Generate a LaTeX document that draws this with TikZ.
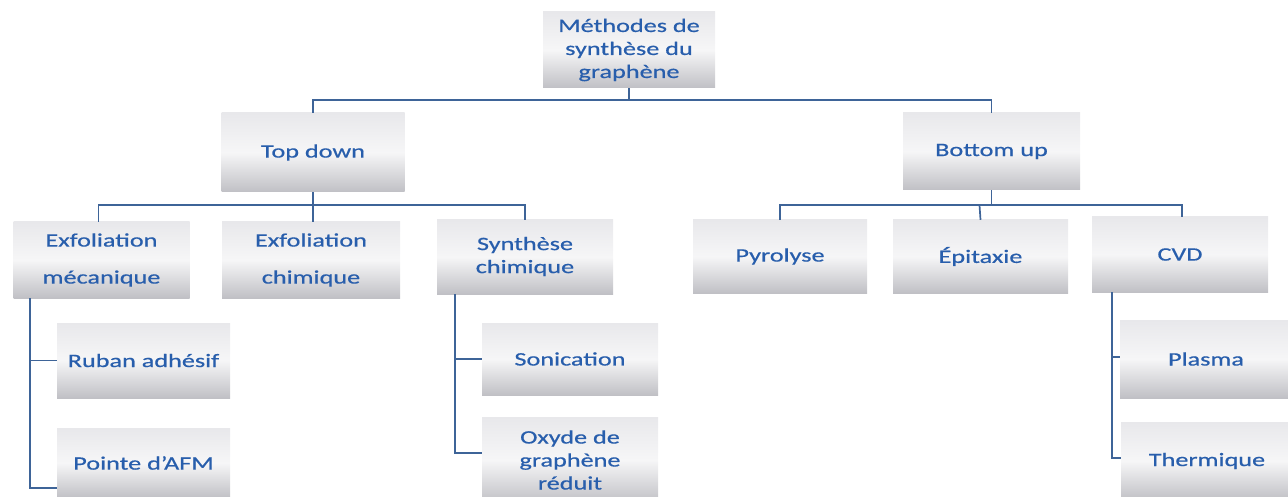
\documentclass[tikz,border=0pt]{standalone}
\usepackage{fontspec}
\newfontfamily\boxfont[FakeStretch=1.38,FakeBold=0.6]{Carlito}
\usetikzlibrary{calc}
\definecolor{txtblue}{RGB}{40,94,172}
\definecolor{linkblue}{RGB}{62,100,152}
\definecolor{boxtop}{RGB}{232,232,235}
\definecolor{boxmid}{RGB}{246,246,247}
\definecolor{boxbot}{RGB}{192,192,197}
\tikzset{
  box/.style={rectangle, inner sep=0pt, align=center,
    top color=boxtop, bottom color=boxbot, middle color=boxmid,
    text=txtblue, font=\boxfont\fontsize{19}{23}\selectfont,
    minimum width=176pt, minimum height=75pt},
  link/.style={draw=linkblue, line width=1.7pt}
}
\begin{document}
\begin{tikzpicture}[x=1pt,y=-1pt]
\useasboundingbox (0,0) rectangle (1288,497);

% root and first level
\node[box, minimum width=172pt, minimum height=76pt] (root) at (629,50) {Méthodes de\\synthèse du\\graphène};
\node[box, minimum width=183pt, minimum height=79pt] (topdown) at (313,152.5) {Top down};
\node[box, minimum width=177pt, minimum height=77pt] (bottomup) at (991.5,151.5) {Bottom up};

% second level
\node[box, minimum height=76pt] (exmec) at (101.5,260) {Exfoliation\\[14pt]mécanique};
\node[box, minimum width=178pt, minimum height=76pt] (exchim) at (311,260) {Exfoliation\\[14pt]chimique};
\node[box, minimum height=74pt] (synchim) at (525,257) {\raisebox{5pt}{\begin{tabular}{@{}c@{}}Synthèse\\chimique\end{tabular}}};
\node[box, minimum width=174pt, minimum height=73pt] (pyro) at (780,256.5) {Pyrolyse};
\node[box, minimum width=175pt, minimum height=73pt] (epi) at (980.5,256.5) {Épitaxie};
\node[box] (cvd) at (1180,254.5) {CVD};

% third level
\node[box, minimum width=173pt] (ruban) at (143.5,360.5) {Ruban adhésif};
\node[box, minimum width=173pt, minimum height=70pt] (pointe) at (143.5,463) {Pointe d’AFM};
\node[box, minimum height=72pt] (sonic) at (570,359) {Sonication};
\node[box, minimum height=86pt] (oxyde) at (570,460) {Oxyde de\\graphène\\réduit};
\node[box, minimum width=172pt, minimum height=78pt] (plasma) at (1206,359) {Plasma};
\node[box, minimum width=172pt, minimum height=78pt] (thermique) at (1207,461) {Thermique};

% connectors: root to first level
\draw[link] (root.south) -- ++(0,12) coordinate (r1);
\draw[link] (r1) -| (topdown.north);
\draw[link] (r1) -| (bottomup.north);

% top down branch
\draw[link] (topdown.south) -- ++(0,13) coordinate (t1);
\draw[link] (t1) -| ($(exmec.north)+(-3,0)$);
\draw[link] (t1) -- (exchim.north -| t1);
\draw[link] (t1) -| (synchim.north);

% bottom up branch
\draw[link] (bottomup.south) -- ++(0,15) coordinate (b1);
\draw[link] (b1) -| (pyro.north);
\draw[link] ($(b1)+(-12,0)$) -- (epi.north);
\draw[link] (b1) -| ($(cvd.north)+(2,0)$);

% sub-branches
\draw[link] ($(exmec.south west)+(17,0)$) |- (ruban.west);
\draw[link] ($(exmec.south west)+(17,0)$) |- ($(pointe.south west)+(0,-10)$);
\draw[link] ($(synchim.south west)+(18,0)$) |- (sonic.west);
\draw[link] ($(synchim.south west)+(18,0)$) |- ($(oxyde.west)+(0,-7)$);
\draw[link] ($(cvd.south west)+(20,0)$) |- ($(plasma.west)+(0,-2)$);
\draw[link] ($(cvd.south west)+(20,0)$) |- ($(thermique.west)+(0,-3)$);
\end{tikzpicture}
\end{document}
